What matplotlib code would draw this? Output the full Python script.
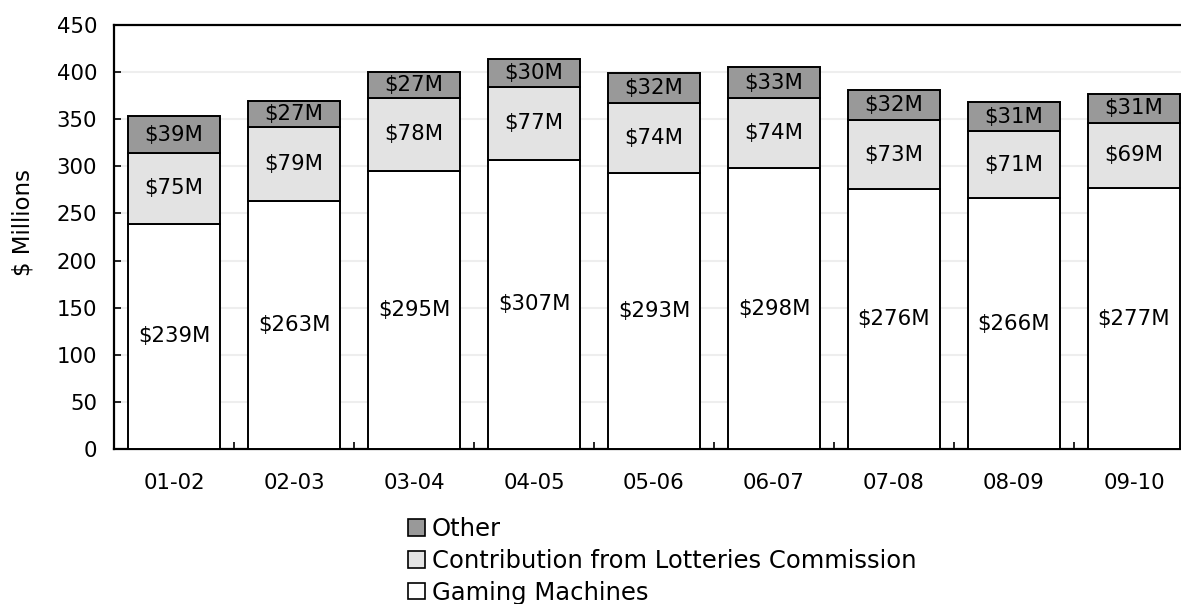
import matplotlib
matplotlib.use("Agg")
import matplotlib.pyplot as plt
import numpy as np
from matplotlib.patches import Patch

years = ["01-02", "02-03", "03-04", "04-05", "05-06", "06-07", "07-08", "08-09", "09-10"]
gaming = [239, 263, 295, 307, 293, 298, 276, 266, 277]
lotteries = [75, 79, 78, 77, 74, 74, 73, 71, 69]
other = [39, 27, 27, 30, 32, 33, 32, 31, 31]

plt.rcParams["font.family"] = ["DejaVu Sans"]

W, H = 1181, 604
fig = plt.figure(figsize=(W / 100, H / 100), dpi=100)
# plot area: left 114px, top 25px, bottom 449px, 120px per category
left, right, top, bottom = 114, 114 + 120 * 9, 25, 449
ax = fig.add_axes([left / W, 1 - bottom / H, (right - left) / W, (bottom - top) / H])

x = np.arange(len(years))
bw = 0.767
kw = dict(width=bw, edgecolor="black", linewidth=1.4, zorder=3)
ax.bar(x, gaming, color="white", **kw)
ax.bar(x, lotteries, bottom=gaming, color="#e3e3e3", **kw)
base3 = np.array(gaming) + np.array(lotteries)
ax.bar(x, other, bottom=base3, color="#999999", **kw)

fs = 15.3
for i in range(len(years)):
    ax.text(x[i], gaming[i] / 2, f"${gaming[i]}M", ha="center", va="center", fontsize=fs, zorder=4)
    ax.text(x[i], gaming[i] + lotteries[i] / 2, f"${lotteries[i]}M", ha="center", va="center", fontsize=fs, zorder=4)
    ax.text(x[i], base3[i] + other[i] / 2, f"${other[i]}M", ha="center", va="center", fontsize=fs, zorder=4)

ax.set_xlim(-0.5, len(years) - 0.5)
ax.set_ylim(0, 450)
ax.set_yticks(np.arange(0, 451, 50))
ax.set_xticks(x)
ax.set_xticklabels(years)
ax.set_xticks(np.arange(0.5, len(years) - 0.5, 1), minor=True)
ax.tick_params(axis="x", which="major", length=0, pad=17, labelsize=fs)
ax.tick_params(axis="x", which="minor", direction="in", length=5, width=1.2)
ax.tick_params(axis="y", direction="in", length=5, width=1.2, pad=12, labelsize=fs)
ax.yaxis.grid(True, color="#eeeeee", linewidth=1.5, zorder=0)
ax.set_axisbelow(True)
for s in ax.spines.values():
    s.set_linewidth(1.6)

fig.text(23 / W, 1 - 222 / H, "$ Millions", rotation=90, ha="center", va="center", fontsize=16.5)

handles = [Patch(facecolor="#999999", edgecolor="black", linewidth=1.2),
           Patch(facecolor="#e3e3e3", edgecolor="black", linewidth=1.2),
           Patch(facecolor="white", edgecolor="black", linewidth=1.2)]
labels = ["Other", "Contribution from Lotteries Commission", "Gaming Machines"]
fig.legend(handles, labels, loc="upper left", bbox_to_anchor=(408 / W, 1 - 517 / H),
           frameon=False, fontsize=17.5, handlelength=0.68, handleheight=0.68,
           handletextpad=0.3, labelspacing=0.32, borderaxespad=0, borderpad=0)

fig.savefig("out.png", dpi=100)
